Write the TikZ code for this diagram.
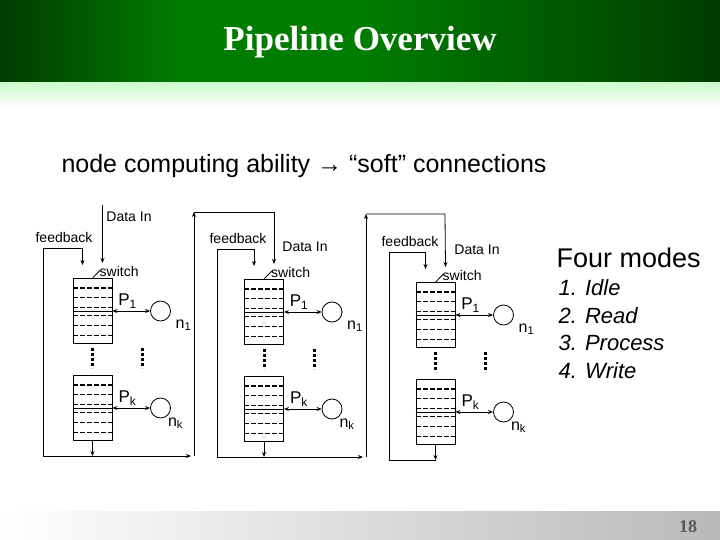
\documentclass[tikz,border=0pt]{standalone}
\usepackage{fontspec}
\setmainfont{Liberation Serif}
\setsansfont{Liberation Sans}
\usetikzlibrary{arrows.meta,calc}
\definecolor{gdark}{RGB}{0,60,0}
\definecolor{gmid}{RGB}{0,125,0}
\definecolor{glight}{RGB}{205,250,205}
\tikzset{
  wire/.style={line width=0.8pt,-{Stealth[length=5pt,width=4pt]}},
  line/.style={line width=0.8pt},
  qbox/.style={draw,line width=0.8pt,minimum width=39pt,minimum height=65pt,inner sep=0},
  proc/.style={draw,circle,line width=0.8pt,minimum size=20pt,inner sep=0},
  lab/.style={font=\sffamily\fontsize{14}{14}\selectfont,inner sep=0},
  dashrow/.style={dash pattern=on 5pt off 2pt,line width=1.2pt}
}
\begin{document}
\begin{tikzpicture}[x=1pt,y=-1pt]
\useasboundingbox (0,0) rectangle (720,540);
\shade[left color=gdark,right color=gmid,middle color=gmid] (0,0) rectangle (360,83);
\shade[left color=gmid,right color=gdark] (360,0) rectangle (720,83);
\shade[top color=glight,bottom color=white] (0,83) rectangle (720,107);
\node[text=white,font=\bfseries\fontsize{35}{35}\selectfont] (title) at (360,42) {Pipeline Overview};
\shade[left color=white,right color=gray!55] (0,511) rectangle (720,540);
\node[font=\bfseries\fontsize{18}{18}\selectfont,text=gray!70!black] (pg) at (688,527) {18};
\node[anchor=west,font=\sffamily\fontsize{25}{25}\selectfont] (sub) at (58,166) {node computing ability → “soft” connections};
\node[anchor=west,font=\sffamily\fontsize{27}{27}\selectfont] (fm) at (553,258) {Four modes};
\foreach \t [count=\k] in {Idle,Read,Process,Write}
  \node[anchor=west,font=\sffamily\itshape\fontsize{22}{22}\selectfont] (m\k) at (555,260+27.7*\k) {\k. \t};
\foreach \i/\bx/\dy/\fx in {1/92.5/0/43, 2/264/1/217, 3/435.5/4/389}{
  \begin{scope}[yshift=-\dy pt]
  \node[qbox] (qa\i) at (\bx,311) {};
  \node[qbox] (qb\i) at (\bx,408) {};
  \foreach \q in {a,b}{
    \draw[line] (q\q\i.west) -- (q\q\i.east);
    \foreach \f in {0.15,0.3,0.45,0.57,0.72,0.87}
      \draw[dashrow] ($(q\q\i.north west)!\f!(q\q\i.south west)$) -- ($(q\q\i.north east)!\f!(q\q\i.south east)$);
  }
  \node[proc] (na\i) at (\bx+68,311) {};
  \node[proc] (nb\i) at (\bx+68,408) {};
  \draw[line,{Stealth[length=5pt,width=4pt]}-{Stealth[length=5pt,width=4pt]}] (qa\i.east) -- (na\i.west);
  \draw[line,{Stealth[length=5pt,width=4pt]}-{Stealth[length=5pt,width=4pt]}] (qb\i.east) -- (nb\i.west);
  \node[lab,font=\sffamily\fontsize{17}{17}\selectfont] (pa\i) at (\bx+35,301) {P\textsubscript{1}};
  \node[lab,font=\sffamily\fontsize{17}{17}\selectfont] (pb\i) at (\bx+35,398) {P\textsubscript{k}};
  \node[lab,font=\sffamily\fontsize{16}{16}\selectfont] (la\i) at (\bx+91,325) {n\textsubscript{1}};
  \node[lab,font=\sffamily\fontsize{16}{16}\selectfont] (lb\i) at (\bx+83,423) {n\textsubscript{k}};
  \foreach \dd in {0,50}{
    \draw[line width=3pt,dash pattern=on 3pt off 2pt] (\bx+\dd,348) -- (\bx+\dd,368);
  }
  \coordinate (sw\i) at (\bx+8,270);
  \draw[line] (qa\i.north) -- (sw\i);
  \node[lab,anchor=west] (swl\i) at (\bx+7,271) {switch};
  \node[lab] (fb\i) at (\fx+21,237) {feedback};
  \coordinate (fc\i) at (\fx,248);
  \coordinate (fd\i) at (\bx-10,248);
  \coordinate (fe\i) at (\bx-10,265);
  \coordinate (bl\i) at (\fx,456);
  \coordinate (bo\i) at (\bx,456);
  \draw[wire] (bl\i) -- (fc\i) -- (fd\i) -- (fe\i);
  \draw[wire] (qb\i.south) -- (bo\i);
  \coordinate (din\i) at (\bx+10,263);
  \end{scope}
}
\coordinate (top1) at (102.5,205);
\draw[wire] (top1) -- (din1);
\node[lab] (di1) at (129,217) {Data In};
\node[lab] (di2) at (305,247) {Data In};
\node[lab] (di3) at (477,250) {Data In};
\coordinate (r1b) at (194,456); \coordinate (r1t) at (194,212); \coordinate (r1x) at (274,212);
\draw[wire] (bl1) -- ($(r1b)+(-3,0)$);
\draw[wire] (r1b) -- (r1t);
\draw[wire] (r1t) -- (r1x) -- (din2);
\coordinate (r2b) at (366,457); \coordinate (r2t) at (366,214); \coordinate (r2x) at (445,214);
\draw[wire] (bl2) -- ($(r2b)+(-3,0)$);
\draw[wire] (r2b) -- (r2t);
\draw[wire] (r2t) -- (r2x) -- (din3);
\draw[line] (bl3) -- (bo3);
\end{tikzpicture}
\end{document}
